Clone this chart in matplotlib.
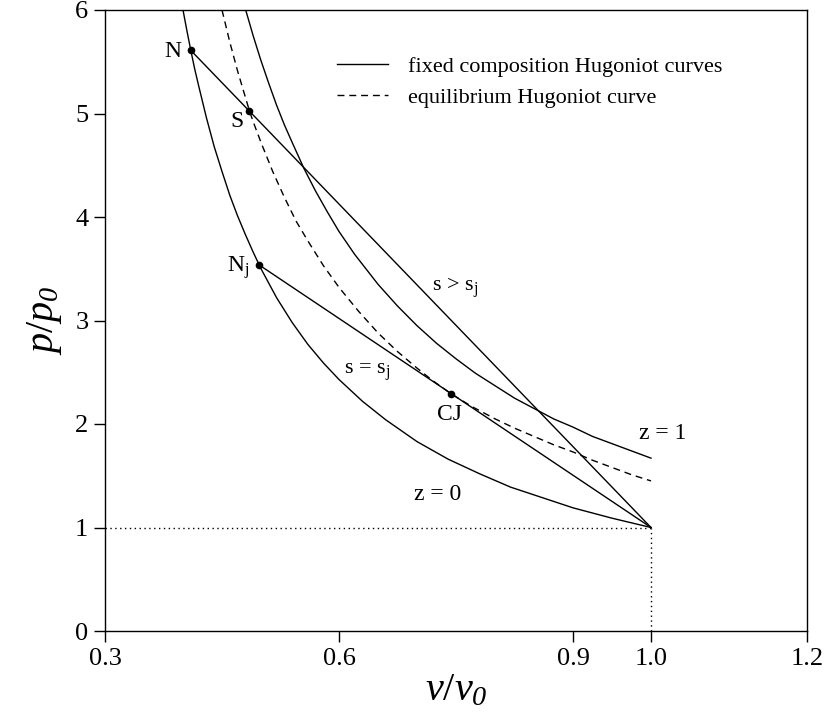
import matplotlib

matplotlib.use("Agg")
import matplotlib.pyplot as plt

plt.rcParams["font.family"] = ["Liberation Serif", "DejaVu Serif"]
plt.rcParams["mathtext.fontset"] = "custom"
plt.rcParams["mathtext.rm"] = "Liberation Serif"
plt.rcParams["mathtext.it"] = "Liberation Serif:italic"
plt.rcParams["mathtext.sf"] = "Liberation Serif:italic"  # used for the italic subscript 0

# frozen (z = 0) Hugoniot
v_z0 = [0.40, 0.405, 0.41, 0.415, 0.42, 0.43, 0.44, 0.45, 0.46, 0.47, 0.48,
        0.49, 0.50, 0.52, 0.54, 0.56, 0.58, 0.60, 0.63, 0.66, 0.70, 0.74,
        0.78, 0.82, 0.86, 0.90, 0.95, 1.00]
p_z0 = [6.00, 5.80, 5.61, 5.43, 5.27, 4.96, 4.68, 4.44, 4.21, 4.01, 3.83,
        3.66, 3.50, 3.22, 2.98, 2.77, 2.59, 2.43, 2.22, 2.04, 1.83, 1.66,
        1.52, 1.39, 1.29, 1.19, 1.09, 1.00]

# fully reacted (z = 1) Hugoniot
v_z1 = [0.48, 0.485, 0.49, 0.50, 0.51, 0.52, 0.53, 0.54, 0.555, 0.57, 0.585,
        0.60, 0.62, 0.65, 0.675, 0.70, 0.725, 0.75, 0.775, 0.80, 0.825, 0.85,
        0.875, 0.90, 0.925, 0.95, 0.975, 1.00]
p_z1 = [6.01, 5.88, 5.75, 5.51, 5.29, 5.08, 4.89, 4.72, 4.47, 4.25, 4.05,
        3.86, 3.64, 3.35, 3.14, 2.95, 2.78, 2.63, 2.49, 2.37, 2.25, 2.15,
        2.05, 1.97, 1.88, 1.81, 1.74, 1.67]

# equilibrium Hugoniot
v_eq = [0.45, 0.46, 0.47, 0.485, 0.49, 0.50, 0.515, 0.53, 0.545, 0.56, 0.58,
        0.60, 0.625, 0.65, 0.675, 0.70, 0.72, 0.744, 0.77, 0.80, 0.825, 0.85,
        0.875, 0.90, 0.925, 0.95, 0.975, 1.00]
p_eq = [6.00, 5.69, 5.41, 5.03, 4.92, 4.72, 4.44, 4.19, 3.96, 3.77, 3.53,
        3.32, 3.09, 2.88, 2.70, 2.54, 2.42, 2.29, 2.17, 2.05, 1.96, 1.88,
        1.80, 1.73, 1.65, 1.58, 1.51, 1.45]

# Rayleigh lines from the initial state
v_ray_N = [1.00, 0.410]
p_ray_N = [1.00, 5.61]
v_ray_Nj = [1.00, 0.497]
p_ray_Nj = [1.00, 3.54]

# marked states: N, S, N_j, CJ
v_pts = [0.410, 0.485, 0.497, 0.744]
p_pts = [5.61, 5.02, 3.54, 2.29]

x_ticks = [0.3, 0.6, 0.9, 1.0, 1.2]
x_ticklabels = ["0.3", "0.6", "0.9", "1.0", "1.2"]
y_ticks = [0, 1, 2, 3, 4, 5, 6]

fig = plt.figure(figsize=(8.27, 7.23), dpi=100)
ax = fig.add_axes([105 / 827, 92 / 723, 702 / 827, 621 / 723])

lw = 1.0
ax.plot(v_z0, p_z0, color="black", lw=lw, label="fixed composition Hugoniot curves")
ax.plot(v_z1, p_z1, color="black", lw=lw)
ax.plot(v_eq, p_eq, color="black", lw=lw, linestyle=(0, (5, 3.5)),
        label="equilibrium Hugoniot curve")
ax.plot(v_ray_N, p_ray_N, color="black", lw=lw)
ax.plot(v_ray_Nj, p_ray_Nj, color="black", lw=lw)
ax.plot([0.3, 1.0], [1.0, 1.0], color="black", lw=1.0, linestyle=(0, (1, 2.5)))
ax.plot([1.0, 1.0], [0.0, 1.0], color="black", lw=1.0, linestyle=(0, (1, 2.5)))
ax.plot(v_pts, p_pts, "o", color="black", markersize=4.5, zorder=5)

fs = 17
ax.text(0.387, 5.60, "N", fontsize=fs, ha="center", va="center")
ax.text(0.469, 4.92, "S", fontsize=fs, ha="center", va="center")
ax.text(0.471, 3.51, r"N$_{\rm j}$", fontsize=fs, ha="center", va="center")
ax.text(0.636, 2.50, r"s = s$_{\rm j}$", fontsize=16, ha="center", va="center")
ax.text(0.749, 3.32, r"s > s$_{\rm j}$", fontsize=16, ha="center", va="center")
ax.text(0.742, 2.09, "CJ", fontsize=fs, ha="center", va="center")
ax.text(1.015, 1.91, "z = 1", fontsize=fs, ha="center", va="center")
ax.text(0.726, 1.32, "z = 0", fontsize=fs, ha="center", va="center")

ax.set_xlim(0.3, 1.2)
ax.set_ylim(0, 6)
ax.set_xticks(x_ticks)
ax.set_xticklabels(x_ticklabels)
ax.set_yticks(y_ticks)
ax.tick_params(direction="out", length=8, width=1, labelsize=19, pad=4)
for s in ax.spines.values():
    s.set_linewidth(1.0)

ax.set_xlabel(r"$v/v_{\mathsf{0}}$", fontsize=29, labelpad=2)
ax.set_ylabel(r"$p/p_{\mathsf{0}}$", fontsize=29, labelpad=8)

ax.legend(loc="upper left", bbox_to_anchor=(0.33, 0.925), frameon=False,
          fontsize=16, handlelength=2.3, handletextpad=0.9, borderpad=0,
          borderaxespad=0, labelspacing=0.45)

fig.savefig("out.png", dpi=100)
